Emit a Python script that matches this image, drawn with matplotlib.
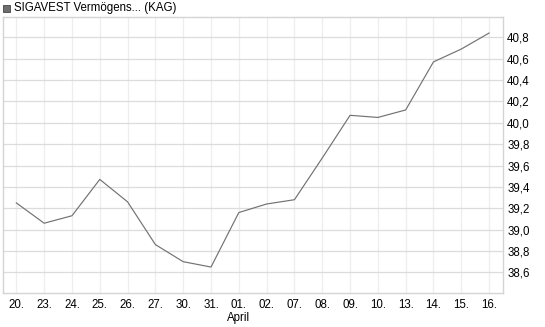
import matplotlib
matplotlib.use('Agg')
import matplotlib.pyplot as plt
from matplotlib.ticker import FuncFormatter
from matplotlib.patches import Rectangle

# Data
day_labels = ['20.', '23.', '24.', '25.', '26.', '27.', '30.', '31.', '01.',
              '02.', '07.', '08.', '09.', '10.', '13.', '14.', '15.', '16.']
prices = [39.25, 39.06, 39.13, 39.47, 39.26, 38.86, 38.70, 38.65, 39.16,
          39.24, 39.28, 39.67, 40.07, 40.05, 40.12, 40.57, 40.69, 40.84]
y_ticks = [38.6, 38.8, 39.0, 39.2, 39.4, 39.6, 39.8, 40.0, 40.2, 40.4, 40.6, 40.8]
month_label = 'April'
month_index = 8
series_name = 'SIGAVEST Vermögens... (KAG)'

plt.rcParams['font.family'] = ['Liberation Sans', 'DejaVu Sans']

fig = plt.figure(figsize=(5.45, 3.27), dpi=100)
# plot area in pixels: left 3, right 503, top 17, bottom 293
ax = fig.add_axes([3 / 545, 1 - 293 / 327, 500 / 545, 276 / 327])

x = list(range(len(prices)))
ax.plot(x, prices, color='#727272', linewidth=0.85)

ax.set_xlim(-0.48, len(prices) - 0.5)
ax.set_ylim(38.407, 40.99)

ax.set_xticks(x)
ax.set_xticklabels(day_labels, fontsize=8.3)
ax.set_yticks(y_ticks)
ax.yaxis.set_major_formatter(FuncFormatter(lambda v, p: f'{v:.1f}'.replace('.', ',')))
ax.yaxis.tick_right()
ax.tick_params(axis='y', labelsize=8.3, length=0, pad=3)
ax.tick_params(axis='x', length=0, pad=4)

ax.grid(axis='y', color='#dcdcdc', linewidth=0.9)
ax.grid(axis='x', color='#eeeeee', linewidth=0.9)
ax.set_axisbelow(True)
for s in ax.spines.values():
    s.set_color('#d4d4d4')
    s.set_linewidth(1)

# month label under the first April day
ax.text(month_index, -0.068, month_label, transform=ax.get_xaxis_transform(),
        ha='center', va='top', fontsize=8.3)

# legend-like header
fig.patches.append(Rectangle((3 / 545, 1 - 12 / 327), 7 / 545, 7 / 327,
                             transform=fig.transFigure, facecolor='#6e6e6e',
                             edgecolor='#444444', linewidth=0.6))
fig.text(14 / 545, 1 - 8.5 / 327, series_name, fontsize=8.3, va='center', ha='left')

fig.savefig('out.png', dpi=100)
